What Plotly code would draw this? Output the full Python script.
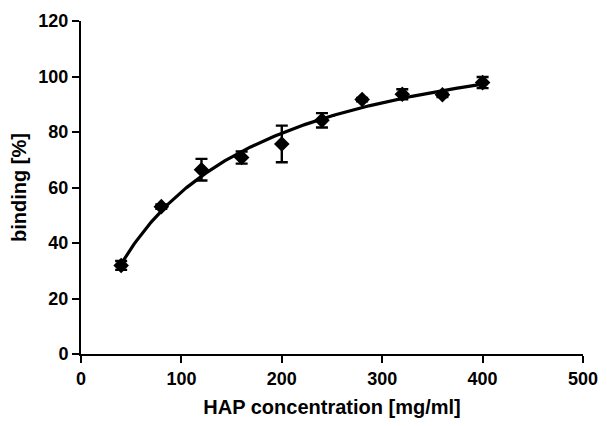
import numpy as np
import plotly.graph_objects as go

# Data
concentration = [40, 80, 120, 160, 200, 240, 280, 320, 360, 400]
binding = [31.9, 53.1, 66.4, 70.8, 75.7, 84.2, 91.7, 93.6, 93.4, 97.8]
binding_err = [1.6, 0.8, 3.9, 2.2, 6.6, 2.6, 0.6, 1.8, 0.8, 2.0]
x_ticks = [0, 100, 200, 300, 400, 500]
y_ticks = [0, 20, 40, 60, 80, 100, 120]

# One-site saturation fit (Bmax*x/(Kd+x)) derived from the data by least squares
xa = np.array(concentration, dtype=float)
ya = np.array(binding, dtype=float)
best = None
for kd in np.linspace(1, 600, 6000):
    f = xa / (kd + xa)
    bmax = (ya * f).sum() / (f * f).sum()
    sse = ((ya - bmax * f) ** 2).sum()
    if best is None or sse < best[0]:
        best = (sse, kd, bmax)
_, kd_fit, bmax_fit = best
x_fit = np.linspace(xa.min(), xa.max(), 200)
y_fit = bmax_fit * x_fit / (kd_fit + x_fit)

FONT = "Liberation Sans, Arial, sans-serif"

fig = go.Figure()
fig.add_trace(go.Scatter(
    x=x_fit, y=y_fit, mode="lines",
    line=dict(color="black", width=3.2), hoverinfo="skip", showlegend=False))
fig.add_trace(go.Scatter(
    x=concentration, y=binding, mode="markers",
    marker=dict(symbol="diamond", size=12, color="black"),
    error_y=dict(type="data", array=binding_err, visible=True,
                 color="black", thickness=2.4, width=6),
    showlegend=False))

axis_common = dict(
    showline=True, linecolor="black", linewidth=2,
    ticks="outside", ticklen=7, tickwidth=2, tickcolor="black",
    showgrid=False, zeroline=False,
    ticklabeloverflow="allow",
    tickfont=dict(family=FONT, size=18, color="black", weight="bold"),
)

# the page body has an 8px margin, so the figure is sized to fit inside the window
fig.update_layout(
    width=591, height=410,
    margin=dict(l=73, r=16, t=13, b=64),
    paper_bgcolor="white", plot_bgcolor="white",
    xaxis=dict(range=[0, 500], tickvals=x_ticks,
               title=dict(text="<b>HAP concentration [mg/ml]</b>",
                          font=dict(family=FONT, size=20, color="black"),
                          standoff=25),
               automargin=False, **axis_common),
    yaxis=dict(range=[0, 120], tickvals=y_ticks,
               title=dict(text="<b>binding [%]</b>",
                          font=dict(family=FONT, size=20, color="black"),
                          standoff=7),
               automargin=False, **axis_common),
)

fig.write_html("out.html")
